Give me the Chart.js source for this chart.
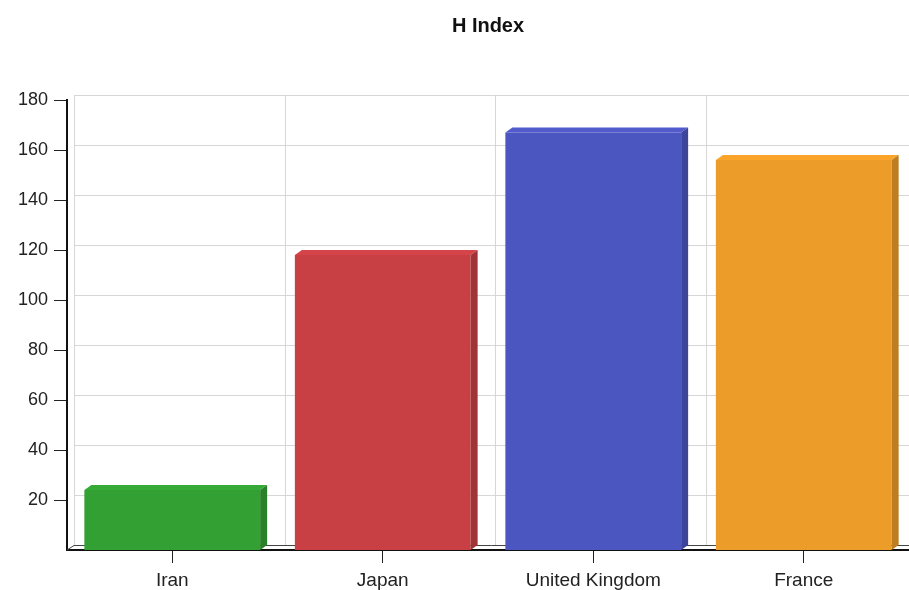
<!DOCTYPE html>
<html>
<head>
<meta charset="utf-8">
<title>H Index</title>
<script src="https://cdn.jsdelivr.net/npm/chart.js@4.4.0/dist/chart.umd.min.js"></script>
<style>
  html, body { margin: 0; padding: 0; background: #fff; overflow: hidden; }
  #wrap { width: 909px; height: 590px; }
</style>
</head>
<body>
<div id="wrap"><canvas id="chart"></canvas></div>
<script>
const countries = ['Iran', 'Japan', 'United Kingdom', 'France'];
const hIndex = [24, 118, 167, 156];
const barColors = ['#33a033', '#c84044', '#4c56c0', '#ec9c28'];

// fake 3D depth of the bars and the back wall
const DX = 7, DY = 5;
const FONT = '"Liberation Sans", Arial, sans-serif';

function shade(hex, f) {
  const n = parseInt(hex.slice(1), 16);
  const c = [n >> 16, (n >> 8) & 255, n & 255].map(v => Math.max(0, Math.min(255, Math.round(v * f))));
  return `rgb(${c[0]},${c[1]},${c[2]})`;
}

const depthPlugin = {
  id: 'depth',
  beforeDatasetsDraw(chart) {
    const { ctx, chartArea: a, scales: { x, y } } = chart;
    ctx.save();
    ctx.lineWidth = 1;
    ctx.strokeStyle = '#d6d6d6';
    ctx.beginPath();
    y.ticks.forEach(t => {
      if (t.value === 0) return;
      const py = Math.round(y.getPixelForValue(t.value)) - DY + 0.5;
      ctx.moveTo(a.left + DX, py);
      ctx.lineTo(a.right, py);
    });
    for (let i = 0; i <= countries.length; i++) {
      const px = Math.round(x.getPixelForValue(i - 0.5)) + DX + 0.5;
      ctx.moveTo(px, a.top - DY);
      ctx.lineTo(px, a.bottom - DY);
    }
    ctx.stroke();
    // floor
    ctx.strokeStyle = '#444';
    ctx.beginPath();
    ctx.moveTo(a.left, a.bottom);
    ctx.lineTo(a.left + DX, a.bottom - DY + 0.5);
    ctx.lineTo(a.right, a.bottom - DY + 0.5);
    ctx.stroke();
    ctx.restore();
  },
  afterDatasetsDraw(chart) {
    const ctx = chart.ctx;
    const meta = chart.getDatasetMeta(0);
    ctx.save();
    meta.data.forEach((bar, i) => {
      const { x, y, width, base } = bar.getProps(['x', 'y', 'width', 'base'], true);
      const l = x - width / 2, r = x + width / 2;
      const col = barColors[i];
      ctx.fillStyle = shade(col, 1.06);
      ctx.beginPath();
      ctx.moveTo(l, y);
      ctx.lineTo(l + DX, y - DY);
      ctx.lineTo(r + DX, y - DY);
      ctx.lineTo(r, y);
      ctx.closePath();
      ctx.fill();
      ctx.fillStyle = shade(col, 0.8);
      ctx.beginPath();
      ctx.moveTo(r, y);
      ctx.lineTo(r + DX, y - DY);
      ctx.lineTo(r + DX, base - DY);
      ctx.lineTo(r, base);
      ctx.closePath();
      ctx.fill();
    });
    ctx.restore();
  }
};

new Chart(document.getElementById('chart'), {
  type: 'bar',
  data: {
    labels: countries,
    datasets: [{
      label: 'H Index',
      data: hIndex,
      backgroundColor: barColors,
      borderWidth: 0,
      barPercentage: 0.835,
      categoryPercentage: 1
    }]
  },
  options: {
    responsive: true,
    maintainAspectRatio: false,
    animation: false,
    layout: { padding: { left: 0, top: 0, bottom: 0, right: -5 } },
    plugins: {
      legend: { display: false },
      tooltip: { enabled: false },
      title: {
        display: true,
        text: 'H Index',
        fullSize: false,
        color: '#111',
        font: { family: FONT, size: 20, weight: 'bold' },
        padding: { top: 14, bottom: 62 }
      }
    },
    scales: {
      x: {
        grid: { drawOnChartArea: false, offset: false, tickLength: 13, color: '#222' },
        border: { color: '#111', width: 2 },
        ticks: { color: '#222', font: { family: FONT, size: 19 }, padding: 6 },
        afterFit(s) { s.height = 40; }
      },
      y: {
        min: 0,
        max: 180,
        grid: { drawOnChartArea: false, tickLength: 13, color: '#222' },
        border: { color: '#111', width: 2 },
        ticks: {
          stepSize: 20,
          color: '#222',
          font: { family: FONT, size: 18 },
          padding: 6,
          callback: v => v === 0 ? null : v
        },
        afterFit(s) { s.width = 67; }
      }
    }
  },
  plugins: [depthPlugin]
});
</script>
</body>
</html>
